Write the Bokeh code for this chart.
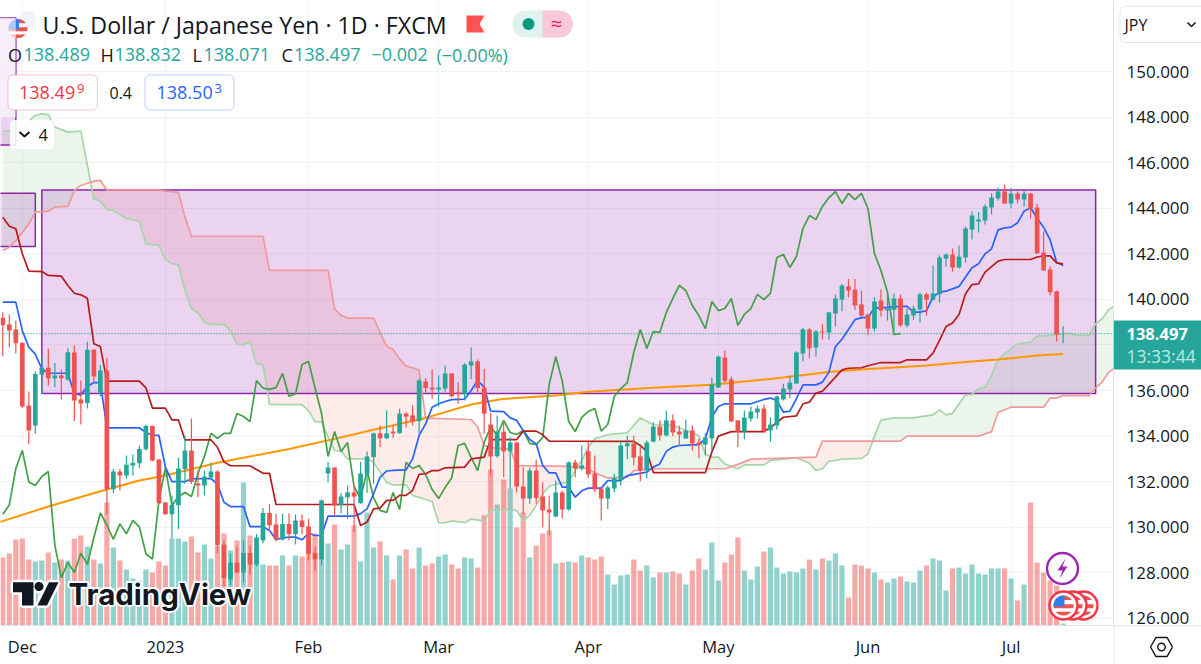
import numpy as np
from bokeh.plotting import figure
from bokeh.layouts import column
from bokeh.models import Range1d, FixedTicker, NumeralTickFormatter, Label, BoxAnnotation, Span, ColumnDataSource
from bokeh.embed import file_html
from bokeh.resources import INLINE

# ---------- data ----------
opens = [139.19,138.90,138.68,138.09,135.34,134.47,136.70,137.00,136.54,136.66,136.48,137.67,135.61,135.45,137.79,135.91,136.88,131.67,132.45,132.27,
132.71,132.81,133.43,134.45,132.97,131.09,130.57,130.97,132.56,133.37,131.92,131.83,132.18,132.45,129.23,127.71,128.46,128.02,128.87,128.37,
129.42,130.63,130.12,129.47,130.15,129.69,130.30,130.04,128.88,128.60,132.36,132.62,130.97,131.32,131.53,131.06,132.32,133.08,134.12,133.91,
134.20,134.13,134.99,134.91,134.66,136.40,136.13,136.05,136.09,136.75,135.92,135.86,137.10,137.28,136.13,134.51,133.12,134.20,133.33,133.72,
131.79,131.26,132.49,131.35,130.78,130.47,131.53,130.78,132.85,132.58,133.33,132.36,131.70,131.26,131.70,132.08,133.56,133.68,133.11,132.49,
133.76,134.42,134.03,134.69,134.20,133.90,134.25,133.72,133.63,133.90,136.13,137.45,136.49,134.69,134.20,134.77,135.04,135.21,134.25,134.47,
135.61,136.05,136.31,137.63,138.68,137.89,138.59,138.55,139.38,139.99,140.57,140.43,139.78,139.34,138.72,139.95,139.51,139.54,140.04,138.86,
139.29,139.56,140.22,139.99,140.22,141.79,141.97,141.40,141.84,143.07,143.42,143.46,144.03,144.43,144.73,144.21,144.65,144.38,144.65,144.03,
142.06,141.31,140.35,138.489]
highs = [139.42,139.34,139.07,138.12,135.96,136.85,137.54,137.83,137.21,136.91,137.86,137.98,136.44,138.14,137.81,137.13,137.43,132.56,132.56,133.15,
133.19,133.59,134.51,134.47,133.00,131.10,131.39,133.05,134.03,134.77,132.49,132.49,132.83,132.49,129.42,128.84,129.16,129.42,129.20,129.71,
130.85,131.03,130.59,130.59,130.62,130.56,130.56,130.37,129.13,131.22,132.87,132.64,131.51,131.83,131.83,132.87,133.33,134.15,134.47,135.13,
134.47,135.20,135.05,135.35,136.52,136.54,136.92,136.66,137.10,136.76,136.37,137.20,137.89,137.36,136.95,135.02,134.91,134.69,133.96,133.74,
132.64,132.61,132.96,131.98,131.40,132.05,131.62,132.89,132.96,133.59,133.74,133.15,131.76,131.83,132.35,133.81,134.03,134.03,133.52,133.81,
134.61,134.69,135.13,134.95,134.47,134.73,134.47,133.88,134.13,136.56,137.54,137.76,136.62,134.69,135.13,135.30,135.34,135.39,134.82,135.78,
136.30,136.66,137.73,138.75,138.75,138.66,138.93,139.45,140.22,140.68,140.90,140.90,140.39,139.37,140.10,140.43,140.17,140.26,140.22,139.59,
139.73,140.30,140.30,141.49,141.93,142.01,142.23,142.37,143.20,143.86,143.83,144.16,144.66,144.90,145.04,144.90,144.73,144.75,144.66,144.19,
142.98,141.44,140.39,138.832]
lows = [137.49,137.90,137.64,135.23,133.63,134.10,135.85,136.22,136.15,135.61,136.44,134.66,134.51,135.21,136.37,135.74,130.56,131.50,131.61,132.13,
132.27,132.61,133.37,132.89,131.03,130.56,129.52,129.92,131.91,131.90,131.32,131.39,132.15,128.87,127.40,127.45,127.99,127.59,127.93,128.28,
129.30,129.79,129.39,129.42,129.42,129.25,129.71,128.54,128.08,128.35,131.98,130.52,130.62,130.37,129.79,131.03,131.50,131.91,133.52,133.88,
133.93,134.10,134.39,134.47,134.10,135.93,135.64,135.30,135.93,135.71,135.42,135.56,136.50,135.92,134.10,132.27,133.05,132.20,131.69,131.54,
130.59,131.03,131.03,130.00,129.64,130.45,130.39,130.74,132.20,132.49,132.17,131.54,130.30,130.80,131.54,131.83,133.00,132.71,132.02,132.14,
133.73,133.81,133.98,134.00,133.56,133.88,133.37,133.03,133.15,133.37,136.12,136.34,134.64,133.52,133.85,134.64,134.76,134.14,133.74,134.29,
135.56,135.67,136.30,137.27,137.41,137.50,138.24,138.24,138.81,139.48,140.08,139.54,139.22,138.43,138.59,139.25,139.07,138.64,138.80,138.78,
139.10,138.99,139.29,139.95,139.86,141.44,141.22,141.34,141.62,142.63,142.94,143.29,143.73,144.34,144.19,143.99,144.21,144.08,143.55,142.00,
141.27,140.17,138.15,138.071]
closes = [138.87,138.63,138.08,135.30,134.25,136.73,137.00,136.54,136.66,136.54,137.68,135.56,135.43,137.79,136.62,136.88,131.67,132.45,132.27,132.75,
132.83,133.44,134.45,132.93,131.06,130.57,130.98,132.58,133.37,131.99,131.83,132.23,132.45,129.22,127.78,128.46,128.02,128.87,128.37,129.55,
130.63,130.09,129.47,130.15,129.71,130.30,130.01,128.84,128.60,131.18,132.62,130.96,131.35,131.53,131.35,132.36,133.11,134.12,133.91,134.12,
134.12,134.99,134.86,134.64,136.44,136.11,136.05,136.13,136.75,135.75,135.86,137.14,137.28,136.11,134.99,133.11,134.20,133.33,133.72,131.79,
131.26,132.49,131.29,130.74,130.65,131.53,130.78,132.85,132.58,132.71,132.32,131.66,131.26,131.75,132.16,133.59,133.68,133.06,132.49,133.72,
134.42,134.03,134.69,134.16,134.07,134.25,133.68,133.63,133.94,136.27,137.49,136.43,134.64,134.20,134.82,135.08,135.21,134.22,134.51,135.74,
136.09,136.35,137.67,138.68,137.85,138.59,138.55,139.43,140.04,140.61,140.39,139.73,139.29,138.72,139.91,139.51,139.60,140.04,138.86,139.34,
139.60,140.22,139.99,140.26,141.84,141.97,141.40,141.88,143.11,143.68,143.51,144.08,144.47,144.73,144.21,144.65,144.38,144.65,143.99,142.01,
141.27,140.31,138.46,138.497]
volumes = [68,72,86,87,66,64,65,73,63,66,65,87,90,79,66,62,123,78,65,56,47,45,56,53,64,60,87,87,84,89,73,81,67,80,92,75,85,143,90,63,
61,60,60,70,60,70,69,85,92,85,82,101,76,81,100,64,113,78,84,70,46,70,76,57,78,60,62,69,71,61,57,68,67,58,110,156,121,146,137,98,
113,68,80,92,95,62,63,64,63,70,68,66,69,51,41,50,51,66,55,60,48,53,53,54,52,41,55,67,56,83,45,63,71,88,55,46,59,74,78,58,
52,54,53,57,66,56,67,65,72,60,28,61,60,57,53,46,43,47,49,44,43,55,60,67,65,35,57,58,52,61,52,51,57,57,57,47,25,41,123,63,
53,45,40,2]

tenkan_idx = [0,2,3,4,5,6,7,10,11,12,13,14,15,16,21,22,23,24,25,26,28,29,32,33,34,35,37,38,40,41,42,43,44,45,46,47,48,49,50,54,55,56,57,58,59,60,62,63,64,65,66,67,68,69,71,72,73,74,75,77,78,79,80,81,82,83,84,85,86,87,88,89,90,92,93,95,96,99,100,101,102,103,104,107,108,109,110,111,115,117,118,119,120,121,122,123,125,126,127,128,129,130,131,132,133,134,135,138,139,140,141,142,143,144,145,146,147,148,149,150,151,152,153,154,155,156,157,158,159,160,161,162,163]
tenkan_val = [139.88,139.88,138.63,137.90,137.60,136.95,136.76,136.76,135.85,135.81,136.18,136.35,136.35,134.36,134.36,134.17,134.03,134.03,132.64,132.00,132.00,132.13,132.14,131.90,131.10,130.91,130.91,130.03,130.03,129.86,129.46,129.54,129.57,129.57,129.45,129.74,129.64,129.64,130.49,130.49,130.60,130.81,131.47,132.20,132.47,132.50,132.52,133.00,134.03,134.54,135.27,135.42,135.52,135.60,135.62,136.00,136.44,136.15,135.10,135.08,134.80,134.69,134.25,133.85,133.66,132.71,132.39,132.39,131.76,131.76,131.32,131.60,131.72,131.72,132.05,132.05,132.27,132.42,132.64,132.78,133.33,133.52,133.59,133.63,133.88,134.83,135.30,135.42,135.42,135.61,135.67,135.56,135.05,135.10,135.64,136.25,136.25,136.37,136.81,137.93,138.25,138.68,139.11,139.20,139.20,139.63,139.63,139.69,139.69,139.44,139.44,139.51,140.10,140.32,140.36,140.46,140.57,140.98,141.39,141.56,142.00,142.22,143.05,143.14,143.17,143.36,143.87,144.02,143.56,143.17,142.61,141.63,141.49]

kijun_idx = [0,1,2,3,4,6,7,9,10,11,12,13,14,15,16,21,22,23,25,26,27,28,32,33,34,35,38,40,41,42,54,55,56,57,58,59,60,61,62,63,64,65,66,67,68,71,72,74,75,79,80,82,83,84,97,98,99,100,108,109,110,112,117,118,120,122,123,124,125,126,128,129,130,132,133,135,138,139,142,143,144,145,146,147,148,149,150,151,152,153,154,158,159,160,161,162,163]
kijun_val = [143.60,143.21,143.10,142.00,141.24,141.22,141.05,141.02,140.61,140.27,140.20,140.05,138.05,137.93,136.41,136.41,136.12,135.23,135.23,134.71,134.71,133.84,133.84,133.51,132.87,132.70,132.70,132.37,132.37,131.00,131.00,130.08,130.23,130.81,130.84,131.18,131.18,131.40,131.40,131.62,132.32,132.35,132.49,132.49,132.61,132.64,133.00,133.08,133.85,133.85,134.22,134.22,134.06,133.78,133.77,133.59,133.33,132.40,132.40,133.30,134.00,134.20,134.20,134.37,134.83,134.89,135.42,135.49,135.89,135.97,136.59,136.91,136.98,137.00,137.09,137.23,137.23,137.35,137.35,137.64,138.20,138.81,138.96,139.34,140.25,140.65,140.68,141.20,141.44,141.68,141.75,141.75,141.86,141.91,141.91,141.60,141.56]

span_a_idx = [0,3,4,5,6,7,8,10,12,14,15,16,17,19,21,22,24,25,26,27,28,29,30,31,32,34,35,36,37,38,39,40,41,46,47,48,49,50,51,52,53,56,57,58,59,60,62,63,66,67,68,69,71,72,74,75,77,79,80,81,82,83,84,85,87,88,89,90,91,93,96,98,100,103,107,108,109,110,111,113,114,117,118,122,124,125,126,127,129,132,133,134,135,137,140,142,143,144,145,146,147,148,149,150,151,152,153,154,156,158,159,161,163,164,165,167,168,169,170,171,172]
span_a_val = [147.40,147.40,147.82,148.07,148.14,148.11,147.56,147.34,147.38,144.41,144.31,143.94,143.90,143.55,143.43,142.44,142.38,141.74,141.56,141.52,140.39,139.59,139.41,139.00,138.90,138.90,138.63,138.05,138.00,138.13,137.17,137.14,135.39,135.38,135.12,134.64,134.62,133.96,133.37,133.35,133.00,133.00,132.86,132.42,131.98,131.86,131.86,131.40,131.13,130.20,130.20,130.28,130.21,130.36,130.28,130.74,130.77,130.74,130.30,130.52,130.96,131.47,131.80,131.88,132.00,132.49,132.93,133.52,133.88,134.07,134.15,134.80,134.50,134.47,134.03,133.22,133.08,133.08,132.78,132.57,132.74,132.74,132.93,133.05,132.81,132.50,132.57,132.89,132.99,133.02,133.22,134.00,134.70,134.80,134.80,134.89,134.93,135.15,134.93,135.00,135.42,135.81,135.83,136.08,136.15,136.66,137.35,137.61,138.05,138.12,138.39,138.42,138.49,138.52,138.42,138.42,138.93,139.15,139.55,139.73,139.85]

span_b_idx = [0,1,2,4,5,7,8,10,11,12,14,15,16,24,25,27,28,29,40,41,50,51,52,53,57,58,59,60,61,62,63,64,65,72,73,74,75,78,79,87,90,91,93,96,97,100,111,113,115,125,126,138,139,150,152,153,155,160,161,162,163,167,168,169,170,172]
span_b_val = [142.15,142.29,142.58,143.31,143.83,143.87,144.05,144.08,144.78,145.00,145.19,145.22,144.80,144.80,144.75,144.70,143.61,142.77,142.77,141.27,141.27,139.59,139.30,139.18,139.18,138.56,137.95,137.80,137.39,137.07,137.00,136.90,134.79,134.73,134.40,133.59,133.50,133.44,132.71,132.67,132.57,132.38,132.17,132.20,132.49,132.57,132.57,132.76,132.99,133.08,133.78,133.78,134.00,134.00,134.20,135.05,135.27,135.27,135.67,135.67,135.78,135.78,136.12,136.37,136.80,137.20]

ma_idx = [-1,7,15,21,25,33,44,51,57,65,72,77,85,90,100,109,118,127,133,135,142,148,153,159,163]
ma_val = [130.18,130.91,131.58,132.05,132.27,132.83,133.44,133.88,134.28,134.80,135.39,135.64,135.78,135.95,136.12,136.25,136.51,136.81,136.95,136.98,137.10,137.25,137.36,137.54,137.60]

rect_left = [-10,-10,6]
rect_right = [2,5,168]
rect_top = [152.36,144.66,144.80]
rect_bottom = [146.78,142.32,135.87]

month_idx = [3,25,47,67,90,110,133,155]
month_lab = ["Dec","2023","Feb","Mar","Apr","May","Jun","Jul"]
price_ticks = list(range(126,152,2))

UP, DOWN = "#26a69a", "#ef5350"
INK = "#131722"
FONT = "Open Sans"

# ---------- page-pixel helpers for decorations ----------
def X(px): return (px-2.3)/6.505
def Y(py): return 150-(py-71)/22.79

n = len(closes)
idx = np.arange(n)
col = [UP if c >= o else DOWN for o,c in zip(opens,closes)]
src = ColumnDataSource(dict(x=idx,o=opens,h=highs,l=lows,c=closes,v=volumes,col=col,
    top=np.maximum(opens,closes),bot=np.minimum(opens,closes)))

p = figure(width=1201,height=664,output_backend="svg",toolbar_location=None,
           x_range=Range1d(X(0),X(1113)),y_range=Range1d(Y(625),Y(0)),
           y_axis_location="right",min_border_left=0,min_border_top=0,
           min_border_right=88,min_border_bottom=39,outline_line_color=None,
           background_fill_color="white",border_fill_color="white")
p.extra_y_ranges = {"vol":Range1d(0,625)}

ax = p.yaxis[0]
ax.ticker = FixedTicker(ticks=price_ticks)
ax.formatter = NumeralTickFormatter(format="0.000")
ax.major_tick_line_color = None; ax.minor_tick_line_color = None
ax.major_tick_out = 0; ax.major_tick_in = 0
ax.axis_line_color = "#e0e3eb"
ax.major_label_text_font = FONT; ax.major_label_text_font_size = "17px"
ax.major_label_text_color = INK; ax.major_label_standoff = 13
bx = p.xaxis[0]
bx.ticker = FixedTicker(ticks=month_idx)
bx.major_label_overrides = dict(zip(month_idx,month_lab))
bx.major_tick_line_color = None; bx.minor_tick_line_color = None
bx.major_tick_out = 0; bx.major_tick_in = 0
bx.axis_line_color = "#e0e3eb"
bx.major_label_text_font = FONT; bx.major_label_text_font_size = "16.5px"
bx.major_label_text_color = INK; bx.major_label_standoff = 9
p.xgrid.ticker = FixedTicker(ticks=month_idx)
p.ygrid.ticker = FixedTicker(ticks=price_ticks)
p.xgrid.grid_line_color = "#f0f3fa"; p.ygrid.grid_line_color = "#f0f3fa"

# volume
p.vbar(x="x",top="v",bottom=0,width=0.8,fill_color="col",fill_alpha=0.5,line_color=None,source=src,y_range_name="vol")

# cloud
g = np.arange(0,172.01,0.25)
a = np.interp(g,span_a_idx,span_a_val); b = np.interp(g,span_b_idx,span_b_val)
m = np.maximum(a,b)
p.varea(g,b,m,fill_color="#43a047",fill_alpha=0.1)
p.varea(g,a,m,fill_color="#f44336",fill_alpha=0.1)

# drawn rectangles
p.quad(left=rect_left,right=rect_right,top=rect_top,bottom=rect_bottom,
       fill_color="#9c27b0",fill_alpha=0.2,line_color="#8e24aa",line_width=1.5)

p.line(span_a_idx,span_a_val,line_color="#a5d6a7",line_width=1.7)
p.line(span_b_idx,span_b_val,line_color="#ef9a9a",line_width=1.7)
p.line(ma_idx,ma_val,line_color="#ff9800",line_width=2)
p.line(idx[:n-25],closes[25:],line_color="#43a047",line_width=1.7)
p.line(tenkan_idx,tenkan_val,line_color="#2962ff",line_width=1.7)
p.line(kijun_idx,kijun_val,line_color="#b71c1c",line_width=1.7)

# candles
p.segment(x0="x",x1="x",y0="l",y1="h",color="col",line_width=1.2,source=src)
p.vbar(x="x",top="top",bottom="bot",width=0.72,fill_color="col",line_color=None,source=src)

p.add_layout(Span(location=closes[-1],dimension="width",line_color=UP,line_width=1.2,line_dash="1 2"))

# ---------- logo ----------
def poly(pts,fill,line=None,lw=0,level="glyph"):
    xs=[X(q[0]) for q in pts]; ys=[Y(q[1]) for q in pts]
    p.patch(xs,ys,fill_color=fill,line_color=line,line_width=lw,level=level)
def circ(cx,cy,r):
    t=np.linspace(0,2*np.pi,40)
    return list(zip(cx+r*np.cos(t),cy+r*np.sin(t)))
logo_T=[(12.5,581.7),(33,581.7),(33,605),(21.5,605),(21.5,591.7),(12.5,591.7)]
logo_S=[(48.5,581.7),(58,581.7),(46.5,605),(37,605)]
logo_D=circ(38.5,586,4.5)
for s in (logo_T,logo_S,logo_D): poly(s,"white","white",5)
for s in (logo_T,logo_S,logo_D): poly(s,INK)
def L(px,py,text,size,color,align="left",weight="normal",font=FONT):
    p.add_layout(Label(x=X(px),y=Y(py),text=text,text_font=font,text_font_size=f"{size}px",
        text_color=color,text_align=align,text_baseline="middle",text_font_style=weight))
for dx,dy in [(-2,0),(2,0),(0,-2),(0,2),(-1.5,-1.5),(1.5,-1.5),(-1.5,1.5),(1.5,1.5)]:
    L(68+dx,593+dy,"TradingView",29.5,"white",weight="bold",font="Inter")
L(68,593,"TradingView",29.5,INK,weight="bold",font="Inter")

# ---------- event icons ----------
def arc_band(cx,cy,r,d0,d1,xmax=None):
    # slice of a disc between two vertical offsets (fractions of r)
    ys=np.linspace(d0*r,d1*r,14)
    hw=np.sqrt(np.maximum(r*r-ys*ys,0))
    xr=hw if xmax is None else np.minimum(hw,xmax*r)
    return list(zip(cx-hw,cy+ys))+list(zip((cx+xr)[::-1],(cy+ys)[::-1]))
def flag(cx,cy,r,ring=True):
    if ring:
        p.scatter([X(cx)],[Y(cy)],size=2*r+8,fill_color="white",line_color="#f23645",line_width=2.4)
    p.scatter([X(cx)],[Y(cy)],size=2*r,fill_color="white",line_color=None)
    for d0,d1 in [(-1,-.55),(-.12,.28),(.62,1)]:
        poly(arc_band(cx,cy,r,d0,d1),"#ef5350")
    poly(arc_band(cx,cy,r,-1,.08,xmax=.1),"#2f80ed")
p.scatter([X(1062)],[Y(568)],size=31,fill_color="white",line_color="#9c27b0",line_width=2.4)
poly([(1065,558),(1057,570),(1062,570),(1059,578),(1067,566),(1062,566)],"#9c27b0")
flag(1083,605,10); flag(1072,605,10); flag(1063,605,10)

# ---------- legend ----------
p.add_layout(BoxAnnotation(left=X(0),right=X(15.3),top=Y(17),bottom=Y(117),fill_color="white",fill_alpha=0.6,line_color=None))
p.scatter([X(27)],[Y(19)],size=17,fill_color="#f0f3fa",line_color=None)
flag(17.5,28,9.5,ring=False)
L(42,24,"U.S. Dollar / Japanese Yen · 1D · FXCM",23.2,INK)
poly([(466,15),(484,15),(479,23.5),(484,32),(466,32)],"#ff5252")
p.add_layout(BoxAnnotation(left=X(512),right=X(572),top=Y(10),bottom=Y(37),fill_color="#dff2ef",fill_alpha=1,line_color=None,border_radius=13))
p.add_layout(BoxAnnotation(left=X(542),right=X(572),top=Y(10),bottom=Y(37),fill_color="#f8c9d8",fill_alpha=1,line_color=None,border_radius=dict(top_left=0,bottom_left=0,top_right=13,bottom_right=13)))
p.scatter([X(528)],[Y(23.5)],size=12,fill_color="#089981",line_color=None,level="overlay")
L(556,23,"≈",20,"#e91e63",align="center")
for px,lab,valx,val in [(7.5,"O",23,"138.489"),(100,"H",114,"138.832"),(192,"L",203,"138.071"),(281,"C",293.5,"138.497")]:
    L(px,54,lab,18,INK); L(valx,54,val,18,UP)
L(371,54,"−0.002",18,UP); L(436,54,"(−0.00%)",18,UP)
p.add_layout(BoxAnnotation(left=X(7.5),right=X(97),top=Y(74.5),bottom=Y(109.5),fill_color="white",fill_alpha=1,line_color="#f23645",line_width=1,border_radius=5))
L(18.5,92,"138.49",18,"#f23645"); L(76.5,88,"9",13,"#f23645")
L(109,92,"0.4",16,INK)
p.add_layout(BoxAnnotation(left=X(144.5),right=X(233.5),top=Y(74.5),bottom=Y(109.5),fill_color="white",fill_alpha=1,line_color="#2962ff",line_width=1,border_radius=5))
L(156,92,"138.50",18,"#2962ff"); L(214,88,"3",13,"#2962ff")
p.add_layout(BoxAnnotation(left=X(9.5),right=X(54),top=Y(119.5),bottom=Y(149),fill_color="white",fill_alpha=0.88,line_color="#e0e3eb",line_width=1,border_radius=4))
p.line([X(19),X(24),X(29)],[Y(131.5),Y(136),Y(131.5)],line_color=INK,line_width=2,level="overlay")
L(38,134,"4",16.5,INK)

# ---------- price-scale overlay: a small transparent figure over the right-hand strip ----------
r = figure(width=88,height=664,frame_width=88,frame_height=664,output_backend="svg",toolbar_location=None,
           x_range=Range1d(1113,1201),y_range=Range1d(664,0),x_axis_type=None,y_axis_type=None,
           min_border=0,outline_line_color=None,background_fill_alpha=0,border_fill_alpha=0,
           styles={"position":"absolute","left":"1113px","top":"0px","width":"88px","height":"664px"})
r.grid.visible = False
def RL(px,py,text,size,color,weight="normal"):
    r.add_layout(Label(x=px,y=py,text=text,text_font=FONT,text_font_size=f"{size}px",text_color=color,
        text_baseline="middle",text_font_style=weight))
r.quad(left=[1113],right=[1201],top=[320],bottom=[369],fill_color=UP,line_color=None)
RL(1126,333.5,"138.497",16.5,"white",weight="bold")
RL(1126,355,"13:33:44",17.5,"#bfe6e1")
r.quad(left=[1119.5],right=[1215],top=[5.5],bottom=[42],fill_color="white",line_color="#e0e3eb",line_width=1,border_radius=7)
RL(1124,24,"JPY",16,INK)
r.line([1187,1191,1195],[22,26,22],line_color=INK,line_width=1.6)
r.segment(x0=[1113,1113.5],x1=[1201,1113.5],y0=[625.5,625],y1=[625.5,664],line_color="#e0e3eb",line_width=1)
t=np.arange(7)*np.pi/3
r.line(1161+11*np.cos(t),646.5+11*np.sin(t),line_color=INK,line_width=1.4)
r.scatter([1161],[646.5],size=7.5,fill_color=None,line_color=INK,line_width=1.4)

page = column(p,r,styles={"position":"relative"},width=1201,height=664)
open("out.html","w").write(file_html(page,INLINE))
